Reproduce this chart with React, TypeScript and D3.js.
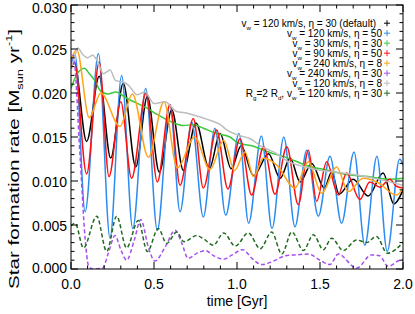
import { scaleLinear, line, curveMonotoneX, range } from "d3";

type Pt = [number, number];

// time [Gyr], SFR [Msun/yr]
const defaultRun: Pt[] = [
  [0, 0.0228], [0.02, 0.0235], [0.094, 0.0145], [0.17, 0.0219], [0.239, 0.0126],
  [0.315, 0.0211], [0.39, 0.0116], [0.46, 0.0196], [0.532, 0.011], [0.607, 0.0181],
  [0.677, 0.0112], [0.753, 0.0166], [0.833, 0.0114], [0.898, 0.0154], [0.965, 0.0114],
  [1.025, 0.014], [1.1, 0.0106], [1.19, 0.0131], [1.26, 0.0103], [1.32, 0.0126],
  [1.38, 0.0099], [1.45, 0.012], [1.526, 0.0092], [1.57, 0.011], [1.615, 0.0085],
  [1.7, 0.0102], [1.79, 0.0083], [1.88, 0.0109], [1.945, 0.0074], [2.0, 0.009],
];

const eta50: Pt[] = [
  [0, 0.0232], [0.025, 0.0243], [0.085, 0.0065], [0.165, 0.0245], [0.235, 0.0035],
  [0.305, 0.022], [0.372, 0.0046], [0.45, 0.0205], [0.52, 0.0044], [0.596, 0.0187],
  [0.657, 0.0065], [0.727, 0.0167], [0.797, 0.0059], [0.867, 0.016], [0.932, 0.0061],
  [1.012, 0.0154], [1.07, 0.0052], [1.147, 0.0151], [1.211, 0.0046], [1.282, 0.015],
  [1.349, 0.0048], [1.42, 0.0135], [1.49, 0.006], [1.56, 0.0128], [1.63, 0.0052],
  [1.705, 0.0133], [1.77, 0.0027], [1.843, 0.0128], [1.905, 0.002], [1.98, 0.0125],
  [2.0, 0.0118],
];

const vw30: Pt[] = [
  [0, 0.0205], [0.02, 0.0215], [0.05, 0.0225], [0.08, 0.0228], [0.11, 0.0222],
  [0.15, 0.0212], [0.175, 0.0203], [0.22, 0.0199], [0.27, 0.0201], [0.335, 0.0194],
  [0.39, 0.0189], [0.456, 0.0183], [0.516, 0.0176], [0.596, 0.0168], [0.677, 0.0163],
  [0.74, 0.0164], [0.797, 0.016], [0.877, 0.0154], [0.958, 0.015], [1.0, 0.0144],
  [1.108, 0.0139], [1.19, 0.0133], [1.309, 0.0126], [1.43, 0.0117], [1.55, 0.0112],
  [1.67, 0.0107], [1.79, 0.0105], [1.91, 0.0102], [2.0, 0.0103],
];

const vw90: Pt[] = [
  [0, 0.0228], [0.02, 0.0235], [0.094, 0.0108], [0.17, 0.0235], [0.229, 0.0105],
  [0.3, 0.019], [0.365, 0.0103], [0.452, 0.02], [0.52, 0.0099], [0.596, 0.0187],
  [0.657, 0.0095], [0.737, 0.0171], [0.797, 0.0092], [0.877, 0.0158], [0.945, 0.0091],
  [1.018, 0.0148], [1.088, 0.0084], [1.16, 0.0139], [1.229, 0.0085], [1.3, 0.0139],
  [1.369, 0.0073], [1.43, 0.0135], [1.48, 0.0077], [1.54, 0.0122], [1.61, 0.0084],
  [1.66, 0.0109], [1.74, 0.0079], [1.8, 0.0099], [1.86, 0.0093], [1.92, 0.0102],
  [1.96, 0.0094], [2.0, 0.0092],
];

const vw240eta8: Pt[] = [
  [0, 0.0238], [0.035, 0.0249], [0.11, 0.0172], [0.18, 0.02], [0.295, 0.0162],
  [0.37, 0.0199], [0.466, 0.0127], [0.56, 0.019], [0.64, 0.0115], [0.745, 0.015],
  [0.837, 0.0113], [0.92, 0.0146], [0.985, 0.0112], [1.048, 0.0133], [1.1, 0.0105],
  [1.16, 0.0126], [1.24, 0.0118], [1.349, 0.0092], [1.43, 0.0122], [1.51, 0.0086],
  [1.6, 0.0116], [1.67, 0.0088], [1.76, 0.0103], [1.85, 0.0098], [1.96, 0.0084],
  [2.0, 0.0092],
];

const vw240eta30: Pt[] = [
  [0, 0.0235], [0.014, 0.0243], [0.054, 0.013], [0.085, 0.0035], [0.105, 0.0004],
  [0.13, 0], [0.19, 0.0001], [0.225, 0.0018], [0.265, 0.0038], [0.3, 0.0022],
  [0.335, 0.001], [0.38, 0.0032], [0.42, 0.0056], [0.47, 0.0022], [0.505, 0.0009],
  [0.57, 0.0026], [0.627, 0.0044], [0.67, 0.0028], [0.705, 0.0012], [0.76, 0.0018],
  [0.81, 0.0021], [0.86, 0.0015], [0.92, 0.0011], [0.97, 0.0016], [1.035, 0.0022],
  [1.09, 0.0012], [1.15, 0.0005], [1.22, 0.0009], [1.29, 0.0015], [1.35, 0.0016],
  [1.43, 0.0017], [1.5, 0.001], [1.56, 0.0005], [1.61, 0.0017], [1.72, 0.0001],
  [1.81, 0.0016], [1.86, 0.0015], [1.91, 0.0003], [1.98, 0.001], [2.0, 0.0011],
];

const eta8: Pt[] = [
  [0, 0.0228], [0.02, 0.024], [0.04, 0.0251], [0.07, 0.0244], [0.1, 0.024],
  [0.13, 0.0243], [0.16, 0.0236], [0.195, 0.0222], [0.235, 0.0226], [0.27, 0.0214],
  [0.32, 0.0212], [0.345, 0.0209], [0.4, 0.0198], [0.446, 0.0201], [0.5, 0.0188],
  [0.566, 0.019], [0.637, 0.0179], [0.7, 0.0177], [0.737, 0.0175], [0.837, 0.0169],
  [0.9, 0.0164], [0.938, 0.0158], [1.01, 0.0152], [1.08, 0.0148], [1.15, 0.0139],
  [1.22, 0.0133], [1.31, 0.0122], [1.41, 0.0116], [1.51, 0.0112], [1.6, 0.011],
  [1.71, 0.0107], [1.83, 0.0103], [1.92, 0.0099], [2.0, 0.0095],
];

const rg2: Pt[] = [
  [0, 0.0049], [0.025, 0.0052], [0.075, 0.0024], [0.155, 0.006], [0.215, 0.002],
  [0.275, 0.006], [0.335, 0.0024], [0.405, 0.0055], [0.46, 0.002], [0.526, 0.0046],
  [0.576, 0.0029], [0.637, 0.0042], [0.68, 0.0031], [0.757, 0.0038], [0.8, 0.0034],
  [0.857, 0.0027], [0.92, 0.0041], [0.99, 0.0026], [1.068, 0.0041], [1.14, 0.0023],
  [1.209, 0.0042], [1.27, 0.0017], [1.33, 0.0042], [1.4, 0.0021], [1.46, 0.0039],
  [1.52, 0.0022], [1.57, 0.0035], [1.64, 0.0021], [1.72, 0.0033], [1.78, 0.003],
  [1.84, 0.0037], [1.905, 0.0018], [2.0, 0.003],
];

const xMajor = [0, 0.5, 1.0, 1.5, 2.0];
const yMajor = [0, 0.005, 0.01, 0.015, 0.02, 0.025, 0.03];

type Seg = [string, "" | "sub" | "sup"];
const legendRows: Seg[][] = [
  [["v", ""], ["w", "sub"], [" = 120 km/s, η = 30 (default)", ""]],
  [["v", ""], ["w", "sub"], [" = 120 km/s, η = 50", ""]],
  [["v", ""], ["w", "sub"], [" = 30 km/s, η = 30", ""]],
  [["v", ""], ["w", "sub"], [" = 90 km/s, η = 50", ""]],
  [["v", ""], ["w", "sub"], [" = 240 km/s, η = 8", ""]],
  [["v", ""], ["w", "sub"], [" = 240 km/s, η = 30", ""]],
  [["v", ""], ["w", "sub"], [" = 120 km/s, η = 8", ""]],
  [["R", ""], ["g", "sub"], ["=2 R", ""], ["d", "sub"], [", v", ""], ["w", "sub"], [" = 120 km/s, η = 30", ""]],
];

const series = [
  { data: defaultRun, color: "#000000", dash: "" },
  { data: eta50, color: "#2b8cf0", dash: "" },
  { data: vw30, color: "#3cc83c", dash: "" },
  { data: vw90, color: "#ff1010", dash: "" },
  { data: vw240eta8, color: "#ffa41a", dash: "" },
  { data: vw240eta30, color: "#a64ff0", dash: "4,2.5" },
  { data: eta8, color: "#bdbdbd", dash: "" },
  { data: rg2, color: "#1f6b1f", dash: "4,2.5" },
];

const W = 415;
const H = 314;
const left = 71;
const right = 403;
const top = 5;
const bottom = 269;

function segTspans(segs: Seg[], size: number) {
  let shift = 0;
  return segs.map(([t, kind], i) => {
    const target = kind === "sub" ? size * 0.3 : kind === "sup" ? -size * 0.45 : 0;
    const dy = target - shift;
    shift = target;
    return (
      <tspan key={i} dy={dy} fontSize={kind ? size * 0.62 : size}>
        {t}
      </tspan>
    );
  });
}

export default function App() {
  const x = scaleLinear().domain([0, 2]).range([left, right]);
  const y = scaleLinear().domain([0, 0.03]).range([bottom, top]);
  const path = line<Pt>()
    .x((d) => x(d[0]))
    .y((d) => y(d[1]))
    .curve(curveMonotoneX);

  const xMinor = range(0, 2.0001, 0.1);
  const yMinor = range(0, 0.03001, 0.001);

  return (
    <div style={{ position: "fixed", left: 0, top: 0 }}>
      <svg width={W} height={H} fontFamily='"Liberation Sans", Arial, Helvetica, sans-serif'>
        <rect width={W} height={H} fill="white" />
        <defs>
          <clipPath id="plot">
            <rect x={left} y={top} width={right - left} height={bottom - top} />
          </clipPath>
        </defs>
        <g clipPath="url(#plot)">
          {series.map((s, i) => (
            <path
              key={i}
              d={path(s.data) ?? ""}
              fill="none"
              stroke={s.color}
              strokeWidth={1.5}
              strokeDasharray={s.dash || undefined}
            />
          ))}
        </g>
        {/* frame and ticks */}
        <rect x={left} y={top} width={right - left} height={bottom - top} fill="none" stroke="#000" strokeWidth={1} />
        {xMinor.map((t, i) => {
          const len = i % 5 === 0 ? 7 : 3.5;
          const xx = x(t);
          return (
            <g key={"xt" + i} stroke="#000" strokeWidth={1}>
              <line x1={xx} x2={xx} y1={bottom} y2={bottom - len} />
              <line x1={xx} x2={xx} y1={top} y2={top + len} />
            </g>
          );
        })}
        {yMinor.map((v, i) => {
          const len = i % 5 === 0 ? 7 : 3.5;
          const yy = y(v);
          return (
            <g key={"yt" + i} stroke="#000" strokeWidth={1}>
              <line x1={left} x2={left + len} y1={yy} y2={yy} />
              <line x1={right} x2={right - len} y1={yy} y2={yy} />
            </g>
          );
        })}
        {xMajor.map((t) => (
          <text key={"xl" + t} x={x(t)} y={289} textAnchor="middle" fontSize={14} fill="#000">
            {t.toFixed(1)}
          </text>
        ))}
        {yMajor.map((v) => (
          <text
            key={"yl" + v}
            x={67}
            y={y(v) + (v === 0.03 ? 3.5 : v === 0 ? -1 : 1.5)}
            dy="0.35em"
            textAnchor="end"
            fontSize={14}
            fill="#000"
          >
            {v.toFixed(3)}
          </text>
        ))}
        <text x={237} y={306} textAnchor="middle" fontSize={14} fill="#000">
          time [Gyr]
        </text>
        <text
          transform="translate(18.5,159) rotate(-90)"
          textAnchor="middle"
          fontSize={14.5}
          fill="#000"
          textLength={260}
          lengthAdjust="spacingAndGlyphs"
        >
          {segTspans(
            [
              ["Star formation rate [M", ""],
              ["sun", "sub"],
              [" yr", ""],
              ["-1", "sup"],
              ["]", ""],
            ],
            14.5
          )}
        </text>
        {/* legend */}
        {legendRows.map((row, i) => {
          const yy = 26.7 + i * 10;
          return (
            <g key={"lg" + i}>
              <text x={i === 0 ? 376 : 382} y={yy} textAnchor="end" fontSize={10} fill="#000">
                {segTspans(row, 10)}
              </text>
              <g stroke={series[i].color} strokeWidth={1}>
                <line x1={384} x2={390} y1={yy - 3.5} y2={yy - 3.5} />
                <line x1={387} x2={387} y1={yy - 6.5} y2={yy - 0.5} />
              </g>
            </g>
          );
        })}
      </svg>
    </div>
  );
}
